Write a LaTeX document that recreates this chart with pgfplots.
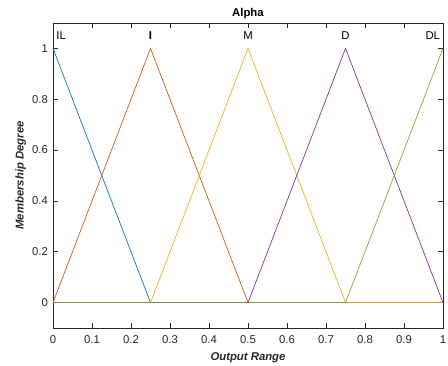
\documentclass[border=0pt]{standalone}
\usepackage{fontspec}
\setmainfont{Liberation Sans}
\usepackage{pgfplots}
\pgfplotsset{compat=1.18}
\definecolor{mblue}{rgb}{0,0.447,0.741}
\definecolor{morange}{rgb}{0.85,0.325,0.098}
\definecolor{myellow}{rgb}{0.929,0.694,0.125}
\definecolor{mpurple}{rgb}{0.494,0.184,0.556}
\definecolor{mgreen}{rgb}{0.466,0.674,0.188}
\definecolor{axgray}{RGB}{38,38,38}
\begin{document}
\fontsize{8pt}{9.6pt}\selectfont
\begin{tikzpicture}
\begin{axis}[
  scale only axis,
  width=292.5pt, height=228.75pt,
  xmin=0, xmax=1, ymin=-0.1, ymax=1.1,
  xtick={0,0.1,...,1.0}, ytick={0,0.2,...,1.0},
  xticklabels={0,0.1,0.2,0.3,0.4,0.5,0.6,0.7,0.8,0.9,1},
  yticklabels={0,0.2,0.4,0.6,0.8,1},
  tick align=inside,
  major tick length=3.5pt,
  axis line style={axgray, line width=0.5pt},
  every tick/.style={axgray, line width=0.5pt},
  tick label style={font=\fontsize{8.5pt}{10pt}\selectfont, text=axgray},
  xticklabel style={yshift=-3pt},
  yticklabel style={xshift=-1pt},
  /pgf/number format/assume math mode=true,
  title={\textbf{Alpha}},
  title style={font=\fontsize{8.5pt}{10pt}\selectfont, yshift=-5.5pt},
  xlabel={\textbf{\textit{Output Range}}},
  ylabel={\textbf{\textit{Membership Degree}}},
  label style={font=\fontsize{8.5pt}{10pt}\selectfont, text=axgray},
  xlabel style={yshift=-1pt},
  ylabel style={yshift=-1pt},
  clip=false,
]
\addplot[mblue, line width=0.5pt] coordinates {(0,1) (0.25,0) (1,0)};
\addplot[morange, line width=0.5pt] coordinates {(0,0) (0.25,1) (0.5,0) (1,0)};
\addplot[myellow, line width=0.5pt] coordinates {(0,0) (0.25,0) (0.5,1) (0.75,0) (1,0)};
\addplot[mpurple, line width=0.5pt] coordinates {(0,0) (0.5,0) (0.75,1) (1,0)};
\addplot[mgreen, line width=0.5pt] coordinates {(0,0) (0.75,0) (1,1)};
\node[anchor=west, inner sep=0pt, text=black, font=\fontsize{8.5pt}{10pt}\selectfont] at (axis cs:0.008,1.052) {IL};
\node[inner sep=0pt, text=black, font=\fontsize{8.5pt}{10pt}\selectfont] at (axis cs:0.25,1.052) {\textbf{I}};
\node[inner sep=0pt, text=black, font=\fontsize{8.5pt}{10pt}\selectfont] at (axis cs:0.5,1.052) {M};
\node[inner sep=0pt, text=black, font=\fontsize{8.5pt}{10pt}\selectfont] at (axis cs:0.75,1.052) {D};
\node[anchor=east, inner sep=0pt, text=black, font=\fontsize{8.5pt}{10pt}\selectfont] at (axis cs:0.993,1.052) {DL};
\coordinate (sw) at (rel axis cs:0,0);
\coordinate (ne) at (rel axis cs:1,1);
\end{axis}
\pgfresetboundingbox
\path ([shift={(-39.75pt,-27.75pt)}]sw) rectangle ([shift={(3.75pt,17.25pt)}]ne);
\end{tikzpicture}
\end{document}
